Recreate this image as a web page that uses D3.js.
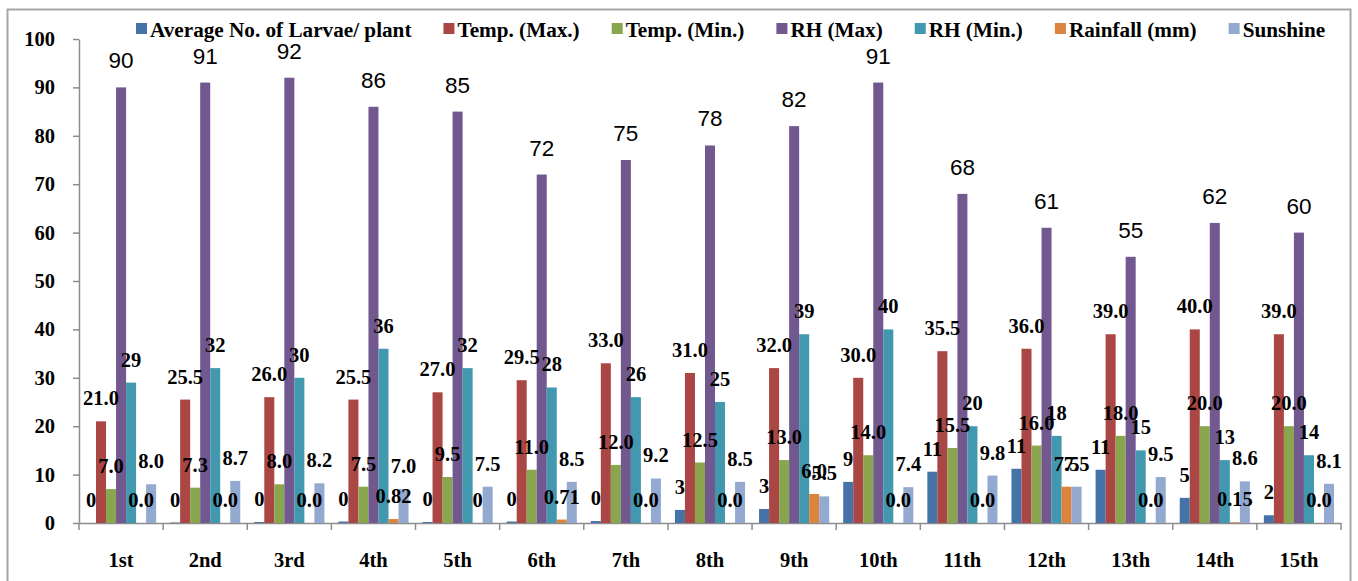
<!DOCTYPE html>
<html>
<head>
<meta charset="utf-8">
<script src="https://cdn.jsdelivr.net/npm/d3@7"></script>
<style>
  body { margin: 0; background: #fff; }
  svg { display: block; }
</style>
</head>
<body>
<div id="chart"></div>
<script>
// weeks on the x axis
const weeks = ["1st","2nd","3rd","4th","5th","6th","7th","8th","9th","10th","11th","12th","13th","14th","15th"]

// series values
const larvae   = [0, 0.1, 0.2, 0.3, 0.2, 0.3, 0.4, 2.7, 2.9, 8.5, 10.6, 11.2, 11.0, 5.2, 1.6]
const tempMax  = [21.0, 25.5, 26.0, 25.5, 27.0, 29.5, 33.0, 31.0, 32.0, 30.0, 35.5, 36.0, 39.0, 40.0, 39.0]
const tempMin  = [7.0, 7.3, 8.0, 7.5, 9.5, 11.0, 12.0, 12.5, 13.0, 14.0, 15.5, 16.0, 18.0, 20.0, 20.0]
const rhMax    = [90, 91, 92, 86, 85, 72, 75, 78, 82, 91, 68, 61, 55, 62, 60]
const rhMin    = [29, 32, 30, 36, 32, 28, 26, 25, 39, 40, 20, 18, 15, 13, 14]
const rainfall = [0, 0, 0, 0.82, 0, 0.71, 0, 0, 6.0, 0, 0, 7.5, 0, 0.15, 0]
const rainfallLabels = ["0.0","0.0","0.0","0.82","0","0.71","0.0","0.0","6.0","0.0","0.0","7.5","0.0","0.15","0.0"]
const sunshine = [8.0, 8.7, 8.2, 7.0, 7.5, 8.5, 9.2, 8.5, 5.5, 7.4, 9.8, 7.5, 9.5, 8.6, 8.1]

const seriesNames = ["Average No. of Larvae/ plant","Temp. (Max.)","Temp. (Min.)","RH (Max)","RH (Min.)","Rainfall (mm)","Sunshine"]
const colors = ["#4572A7","#AA4643","#89A54E","#71588F","#4198AF","#DB843D","#93A9CF"]
const yTicks = [0,10,20,30,40,50,60,70,80,90,100]

const fmt0 = d3.format(".0f"), fmt1 = d3.format(".1f")

const series = [
	{name: seriesNames[0], values: larvae, label: (v) => fmt0(v)},
	{name: seriesNames[1], values: tempMax, label: (v) => fmt1(v)},
	{name: seriesNames[2], values: tempMin, label: (v) => fmt1(v)},
	{name: seriesNames[3], values: rhMax, label: (v) => fmt0(v), big: true},
	{name: seriesNames[4], values: rhMin, label: (v) => fmt0(v)},
	{name: seriesNames[5], values: rainfall, label: (v, i) => rainfallLabels[i]},
	{name: seriesNames[6], values: sunshine, label: (v) => fmt1(v)}
]

const w = 1358, h = 581
const serif = "'Liberation Serif', 'Times New Roman', serif"

let svg = d3.select('#chart').append('svg')
	.attr('width', w)
	.attr('height', h)

//outer chart frame (bottom edge runs off the picture)
svg.append('rect')
	.attr('x', 7.5).attr('y', 9.5)
	.attr('width', 1343).attr('height', 620)
	.attr('fill', 'none')
	.attr('stroke', '#a6a6a6')
	.attr('stroke-width', 2)

let x = d3.scaleBand().domain(weeks).range([79, 1341])
let xInner = d3.scaleBand().domain(seriesNames).range([7, x.bandwidth() - 7])
let y = d3.scaleLinear().domain([0, 100]).range([523, 39])

//y axis
let yAxis = svg.append('g')
	.attr('transform', 'translate(79,0)')
	.call(d3.axisLeft(y).tickValues(yTicks).tickSize(6).tickPadding(18).tickSizeOuter(0))
yAxis.select('.domain').attr('stroke', '#8c8c8c').attr('stroke-width', 1.5)
yAxis.selectAll('.tick line').attr('stroke', '#8c8c8c').attr('stroke-width', 1.5)
yAxis.selectAll('text')
	.attr('font-family', serif)
	.attr('font-weight', 'bold')
	.attr('font-size', 20.5)
	.attr('fill', '#000')

//x axis labels
let xAxis = svg.append('g')
	.attr('transform', 'translate(0,523)')
	.call(d3.axisBottom(x).tickSize(0).tickPadding(29).tickSizeOuter(0))
xAxis.select('.domain').attr('stroke', '#8c8c8c').attr('stroke-width', 1.5)
xAxis.selectAll('text')
	.attr('font-family', serif)
	.attr('font-weight', 'bold')
	.attr('font-size', 20.5)
	.attr('fill', '#000')

//x ticks sit on the category boundaries
let boundaries = weeks.map(d => x(d)).concat([x.range()[1]])
xAxis.selectAll('.boundary')
	.data(boundaries)
	.join('line')
	.attr('class', 'boundary')
	.attr('x1', d => d).attr('x2', d => d)
	.attr('y1', 0).attr('y2', 7)
	.attr('stroke', '#8c8c8c')
	.attr('stroke-width', 1.5)

//bars
let groups = svg.append('g').attr('class', 'bars')
	.selectAll('g')
	.data(series)
	.join('g')
	.attr('fill', (d, i) => colors[i])

groups.selectAll('rect')
	.data(s => s.values.map((v, i) => ({s: s, v: v, week: weeks[i], i: i})))
	.join('rect')
	.attr('x', d => x(d.week) + xInner(d.s.name))
	.attr('y', d => y(d.v))
	.attr('width', xInner.bandwidth())
	.attr('height', d => y(0) - y(d.v))

//data labels (they overlap in a few places, as in the original)
let labelG = svg.append('g').attr('class', 'labels')
series.forEach(s => {
	labelG.selectAll(null)
		.data(s.values.map((v, i) => ({v: v, week: weeks[i], i: i})))
		.join('text')
		.attr('x', d => x(d.week) + xInner(s.name) + xInner.bandwidth() / 2)
		.attr('y', d => y(d.v) - (s.big ? 19 : 16))
		.attr('text-anchor', 'middle')
		.attr('font-family', s.big ? "'Liberation Sans', Arial, sans-serif" : serif)
		.attr('font-weight', s.big ? 'normal' : 'bold')
		.attr('font-size', s.big ? 22.5 : 20.5)
		.attr('fill', '#000')
		.text(d => s.label(d.v, d.i))
})

//legend across the top
let legend = svg.append('g').attr('class', 'legend')
let lx = 136
series.forEach((s, i) => {
	let item = legend.append('g').attr('transform', `translate(${lx},0)`)
	item.append('rect')
		.attr('x', 0).attr('y', 23)
		.attr('width', 11).attr('height', 11)
		.attr('fill', colors[i])
	let t = item.append('text')
		.attr('x', 14).attr('y', 37)
		.attr('font-family', serif)
		.attr('font-weight', 'bold')
		.attr('font-size', 21.2)
		.attr('fill', '#000')
		.text(s.name)
	lx += 14 + t.node().getComputedTextLength() + 32
})
</script>
</body>
</html>
